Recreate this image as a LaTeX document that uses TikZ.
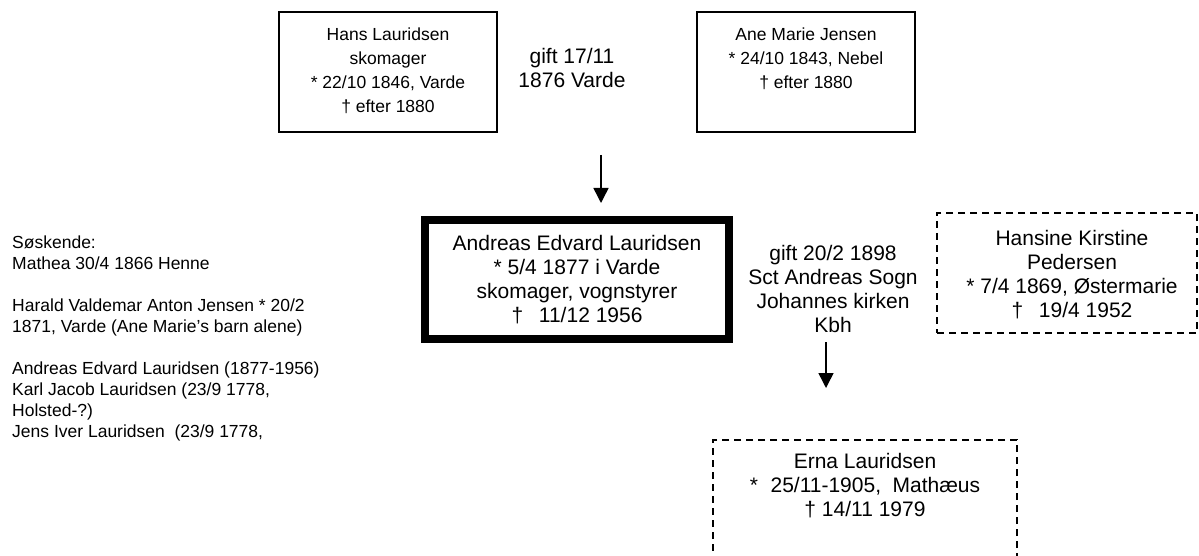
\documentclass[tikz,border=0pt]{standalone}
\usepackage{fontspec}
\setmainfont{Liberation Sans}
\usetikzlibrary{arrows.meta}
\begin{document}
\begin{tikzpicture}[x=1pt,y=-1pt,
  every node/.style={font=\fontsize{21}{24}\selectfont},
  small/.style={font=\fontsize{17.5}{24}\selectfont},
  side/.style={font=\fontsize{17.5}{21}\selectfont},
  txt/.style={align=center, inner sep=0pt},
  box/.style={draw, line width=1.5pt, inner sep=0pt},
  mainbox/.style={draw, line width=8pt, inner sep=0pt},
  dbox/.style={draw, line width=1.8pt, dash pattern=on 7pt off 5pt, inner sep=0pt},
  arr/.style={line width=1.5pt, -{Triangle[width=15pt,length=15pt]}}]
\useasboundingbox (0,0) rectangle (1199,556);
\fill[white] (0,0) rectangle (1199,556);

% boxes
\node[box, minimum width=218pt, minimum height=120pt] (hans) at (388,72) {};
\node[box, minimum width=218pt, minimum height=120pt] (ane) at (806,72) {};
\node[mainbox, minimum width=304pt, minimum height=119pt] (andreas) at (577,279.5) {};
\node[dbox, minimum width=260pt, minimum height=120pt] (hansine) at (1067,273) {};
\node[dbox, minimum width=304pt, minimum height=140pt] (erna) at (865,510) {};

% texts
\node[txt, small] (hanst) at (388,71) {Hans Lauridsen\\skomager\\* 22/10 1846, Varde\\† efter 1880};
\node[txt] (gift1) at (572,68) {gift 17/11\\1876 Varde};
\node[txt, small] (anet) at (806,59) {Ane Marie Jensen\\* 24/10 1843, Nebel\\† efter 1880};
\node[txt] (andreast) at (577,280) {Andreas Edvard Lauridsen\\* 5/4 1877 i Varde\\skomager, vognstyrer\\†\hspace{0.75em}11/12 1956};
\node[txt] (gift2) at (833,289) {gift 20/2 1898\\Sct Andreas Sogn\\Johannes kirken\\Kbh};
\node[txt] (hansinet) at (1072,275) {Hansine Kirstine\\Pedersen\\* 7/4 1869, Østermarie\\†\hspace{0.75em}19/4 1952};
\node[txt] (ernat) at (865,486) {Erna Lauridsen\\*\hspace{0.6em}25/11-1905,\hspace{0.55em}Mathæus\\† 14/11 1979};

\node[txt, side, align=left, anchor=base west] (sosk) at (12,437.5) {Søskende:\\Mathea 30/4 1866 Henne\\[21pt]Harald Valdemar Anton Jensen * 20/2\\1871, Varde (Ane Marie’s barn alene)\\[21pt]Andreas Edvard Lauridsen (1877-1956)\\Karl Jacob Lauridsen (23/9 1778,\\Holsted-?)\\Jens Iver Lauridsen\hspace{0.55em}(23/9 1778,};

% arrows
\coordinate (a1s) at (601,155);
\coordinate (a1e) at (601,203);
\coordinate (a2s) at (826,342);
\coordinate (a2e) at (826,388);
\draw[arr] (a1s) -- (a1e);
\draw[arr] (a2s) -- (a2e);
\end{tikzpicture}
\end{document}
